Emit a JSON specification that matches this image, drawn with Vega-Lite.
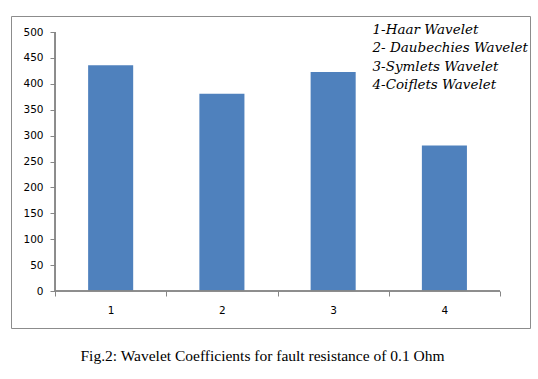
{
  "$schema": "https://vega.github.io/schema/vega-lite/v6.json",
  "width": 519,
  "height": 312,
  "autosize": {"type": "none"},
  "padding": {"left": 11, "top": 16, "right": 8, "bottom": 51},
  "background": "white",
  "config": {
    "view": {"stroke": "#8c8c8c", "strokeWidth": 1},
    "axis": {"labelFont": "DejaVu Sans", "labelFontSize": 10.5, "labelColor": "#000000", "domainColor": "#868686", "tickColor": "#868686", "grid": false, "title": null, "labelOverlap": false}
  },
  "title": {
    "text": "Fig.2: Wavelet Coefficients for fault resistance of 0.1 Ohm",
    "orient": "bottom",
    "anchor": "middle",
    "font": "Liberation Serif",
    "fontSize": 15.5,
    "fontWeight": "normal",
    "color": "#000000",
    "offset": 21,
    "dx": -8
  },
  "data": {
    "values": [
      {"wavelet": "1", "label": "1-Haar Wavelet", "value": 436},
      {"wavelet": "2", "label": "2- Daubechies Wavelet", "value": 381},
      {"wavelet": "3", "label": "3-Symlets Wavelet", "value": 423},
      {"wavelet": "4", "label": "4-Coiflets Wavelet", "value": 281}
    ]
  },
  "layer": [
    {
      "mark": {"type": "bar", "width": {"band": 0.405}, "fill": "#4F81BD"},
      "encoding": {
        "x": {
          "field": "wavelet",
          "type": "ordinal",
          "scale": {"paddingInner": 0, "paddingOuter": 0.3326, "align": 0.595},
          "axis": {"orient": "bottom", "offset": -37, "labelAngle": 0, "domain": false, "tickBand": "extent", "tickSize": 5, "labelPadding": 9}
        },
        "y": {
          "field": "value",
          "type": "quantitative",
          "scale": {"domain": [-71.4, 530.9], "nice": false, "zero": false},
          "axis": {"values": [0, 50, 100, 150, 200, 250, 300, 350, 400, 450, 500], "tickCount": 30, "labelOverlap": false, "offset": -44, "domain": false, "tickSize": 5, "labelPadding": 7}
        },
        "color": {
          "field": "label",
          "type": "nominal",
          "scale": {"range": ["#4F81BD", "#4F81BD", "#4F81BD", "#4F81BD"]},
          "legend": {
            "title": null,
            "orient": "none",
            "legendX": 348,
            "legendY": 7,
            "symbolOpacity": 0,
            "symbolSize": 0,
            "symbolStrokeWidth": 0,
            "labelOffset": 0,
            "labelFont": "DejaVu Serif",
            "labelFontStyle": "italic",
            "labelFontSize": 13.5,
            "labelColor": "#000000",
            "rowPadding": 3.5,
            "labelLimit": 300
          }
        }
      }
    },
    {
      "mark": {"type": "rule", "color": "#868686"},
      "encoding": {
        "x": {"datum": "1", "bandPosition": 0},
        "y": {"datum": 0},
        "y2": {"datum": 500}
      }
    },
    {
      "mark": {"type": "rule", "color": "#868686"},
      "encoding": {
        "x": {"datum": "1", "bandPosition": 0},
        "x2": {"datum": "4", "bandPosition": 1},
        "y": {"datum": 0}
      }
    }
  ]
}
